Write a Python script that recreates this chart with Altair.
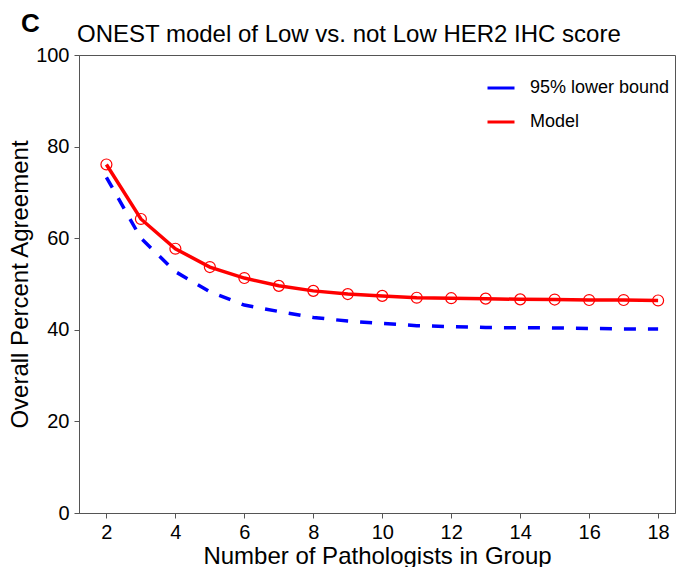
import altair as alt
import pandas as pd

# ---- data ----
group_size = list(range(2, 19))
model_pct = [76.1, 64.2, 57.7, 53.7, 51.3, 49.6, 48.5, 47.8, 47.4,
             47.0, 46.9, 46.8, 46.65, 46.6, 46.5, 46.5, 46.4]
lower_pct = [73.3, 60.0, 52.7, 48.3, 45.4, 44.0, 42.7, 41.9, 41.4,
             40.9, 40.7, 40.5, 40.45, 40.4, 40.3, 40.2, 40.15]
series_names = ["95% lower bound", "Model"]
series_colors = ["#0000ff", "#ff0000"]
x_ticks = list(range(2, 19, 2))
y_ticks = [0, 20, 40, 60, 80, 100]
panel_label = ["C"]
title_text = ["ONEST model of Low vs. not Low HER2 IHC score"]

FONT = "Liberation Sans, Arial, Helvetica, sans-serif"

df_lower = pd.DataFrame({"n": group_size, "v": lower_pct, "series": series_names[0]})
df_model = pd.DataFrame({"n": group_size, "v": model_pct, "series": series_names[1]})

x_enc = alt.X(
    "n:Q",
    scale=alt.Scale(domain=[1.205, 18.49], nice=False, zero=False),
    axis=alt.Axis(values=x_ticks, title="Number of Pathologists in Group",
                  format="d", titlePadding=2, labelPadding=4),
)
y_enc = alt.Y(
    "v:Q",
    scale=alt.Scale(domain=[0, 100], nice=False),
    axis=alt.Axis(values=y_ticks, title="Overall Percent Agreement",
                  titlePadding=3, labelPadding=5),
)
color_enc = alt.Color(
    "series:N",
    scale=alt.Scale(domain=series_names, range=series_colors),
    legend=alt.Legend(
        title=None, orient="none", legendX=407, legendY=18,
        symbolType="stroke", symbolSize=729, symbolStrokeWidth=3,
        labelFontSize=18, labelFont=FONT, labelColor="black",
        labelOffset=14, rowPadding=10,
    ),
)

lower_line = alt.Chart(df_lower).mark_line(
    strokeWidth=3.5, strokeDash=[12, 12]
).encode(x=x_enc, y=y_enc, color=color_enc)

model_line = alt.Chart(df_model).mark_line(strokeWidth=3.5).encode(
    x=x_enc, y=y_enc, color=color_enc
)

model_pts = alt.Chart(df_model).mark_point(
    shape="circle", filled=False, size=120, strokeWidth=1.2, color="#ff0000", opacity=1
).encode(x=x_enc, y=y_enc)

label = alt.Chart(pd.DataFrame({"t": panel_label})).mark_text(
    fontSize=26, fontWeight="bold", font=FONT, align="left",
    baseline="alphabetic", color="black"
).encode(x=alt.value(-58), y=alt.value(-23), text="t:N")

title = alt.Chart(pd.DataFrame({"t": title_text})).mark_text(
    fontSize=24, font=FONT, align="left", baseline="alphabetic", color="black"
).encode(x=alt.value(-2), y=alt.value(-13), text="t:N")

chart = alt.layer(lower_line, model_line, model_pts, label, title).properties(
    width=596,
    height=458,
    autosize=alt.AutoSizeParams(type="none"),
    padding={"left": 71, "top": 47, "right": 1, "bottom": 54},
).configure_view(
    stroke="#555555", strokeWidth=1
).configure_axis(
    grid=False, domainColor="#555555", tickColor="#555555", tickSize=5,
    labelFontSize=20, labelFont=FONT, labelColor="black",
    titleFontSize=24, titleFont=FONT, titleColor="black", titleFontWeight="normal",
)

chart.save("out.html", embed_options={"renderer": "svg", "actions": False})
